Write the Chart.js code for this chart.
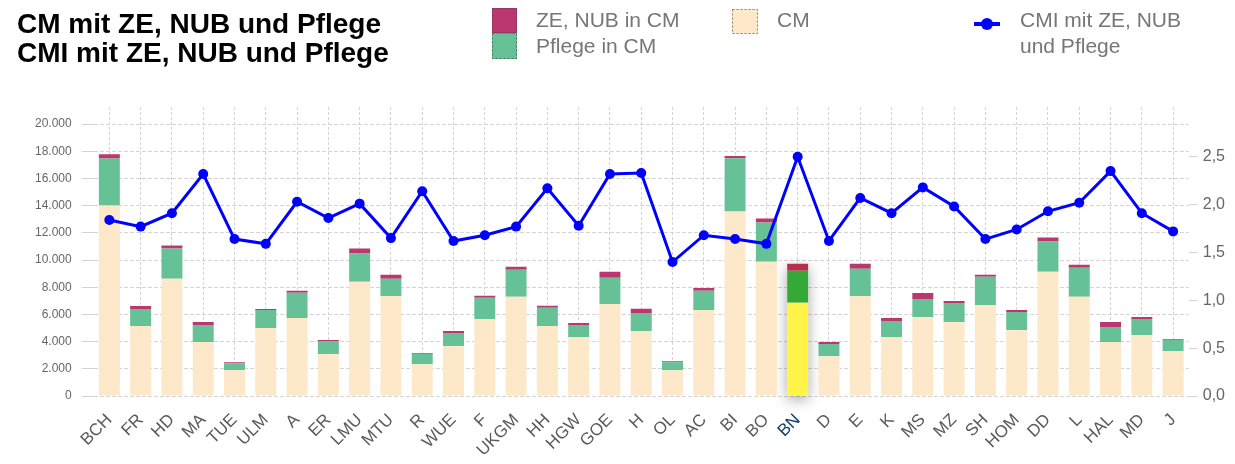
<!DOCTYPE html>
<html>
<head>
<meta charset="utf-8">
<script src="https://cdn.jsdelivr.net/npm/chart.js@4.4.1/dist/chart.umd.min.js"></script>
<style>
  html, body { margin: 0; padding: 0; background: #fff; }
</style>
</head>
<body>
<canvas id="myChart" width="1235" height="464"></canvas>
<script>
var categories = ['BCH', 'FR', 'HD', 'MA', 'TUE', 'ULM', 'A', 'ER', 'LMU', 'MTU', 'R', 'WUE',
    'F', 'UKGM', 'HH', 'HGW', 'GOE', 'H', 'OL', 'AC', 'BI', 'BO', 'BN', 'D', 'E', 'K', 'MS',
    'MZ', 'SH', 'HOM', 'DD', 'L', 'HAL', 'MD', 'J'];
var cmValues = [14000, 5150, 8620, 3970, 1900, 5000, 5740, 3080, 8400, 7360, 2340, 3670,
    5670, 7290, 5150, 4330, 6770, 4780, 1900, 6330, 13570, 9880, 6850, 2930, 7360, 4330, 5810,
    5440, 6700, 4850, 9140, 7290, 3970, 4480, 3300];
var pflegeValues = [3470, 1250, 2220, 1250, 510, 1330, 1850, 960, 2070, 1260, 740, 960,
    1550, 2000, 1330, 890, 1920, 1330, 590, 1400, 3920, 2880, 2360, 890, 2000, 1180, 1330,
    1400, 2070, 1330, 2220, 2140, 1110, 1180, 810];
var zeNubValues = [300, 220, 220, 220, 80, 70, 150, 70, 370, 300, 70, 150,
    150, 220, 150, 150, 440, 300, 70, 220, 150, 300, 520, 150, 370, 220, 440,
    150, 150, 150, 300, 220, 370, 150, 70];
var cmiValues = [1.84, 1.77, 1.91, 2.32, 1.64, 1.59, 2.03, 1.86, 2.01, 1.65, 2.14, 1.62,
    1.68, 1.77, 2.17, 1.78, 2.32, 2.33, 1.40, 1.68, 1.64, 1.59, 2.50, 1.62, 2.07, 1.91, 2.18,
    1.98, 1.64, 1.74, 1.93, 2.02, 2.35, 1.91, 1.72];

var cmTicks = [0, 2000, 4000, 6000, 8000, 10000, 12000, 14000, 16000, 18000, 20000];
var cmiTicks = [0, 0.5, 1.0, 1.5, 2.0, 2.5];

var titleLines = ['CM mit ZE, NUB und Pflege', 'CMI mit ZE, NUB und Pflege'];
var highlight = 'BN';

var cmColor = '#fde8c9', pflegeColor = '#66c296', zeColor = '#bb3770', lineColor = '#0000ff';
var gridColor = '#d4d4d4';
var font = '"Liberation Sans", Arial, sans-serif';

// the highlighted house gets its own colours
function perBar(normal, special) {
    return categories.map(function (c) { return c === highlight ? special : normal; });
}

function thousands(v) {
    return String(Math.round(v)).replace(/\B(?=(\d{3})+(?!\d))/g, '.');
}

function fixedTicks(values) {
    return function (scale) {
        scale.ticks = values.map(function (v) { return { value: v }; });
    };
}

// drop shadow behind the highlighted stack
var shadowPlugin = {
    id: 'barShadow',
    beforeDatasetsDraw: function (chart) {
        var i = categories.indexOf(highlight);
        var top = Infinity, bottom = -Infinity, x = 0, w = 0;
        chart.data.datasets.forEach(function (ds, d) {
            if (ds.type === 'line') return;
            var el = chart.getDatasetMeta(d).data[i];
            var p = el.getProps(['x', 'y', 'base', 'width'], true);
            top = Math.min(top, p.y, p.base);
            bottom = Math.max(bottom, p.y, p.base);
            x = p.x; w = p.width;
        });
        var ctx = chart.ctx;
        ctx.save();
        ctx.shadowColor = 'rgba(0,0,0,0.35)';
        ctx.shadowBlur = 14;
        ctx.shadowOffsetY = 4;
        ctx.fillStyle = '#fff';
        ctx.fillRect(x - w / 2, top, w, bottom - top);
        ctx.restore();
    }
};

// title and legend block above the plot
var headerPlugin = {
    id: 'header',
    afterDraw: function (chart) {
        var ctx = chart.ctx;
        var ds = chart.data.datasets;
        ctx.save();
        ctx.fillStyle = '#000';
        ctx.font = 'bold 28px ' + font;
        titleLines.forEach(function (t, i) { ctx.fillText(t, 17, 33 + i * 29); });

        function box(color, x, y, w, h) {
            ctx.fillStyle = color;
            ctx.fillRect(x, y, w, h);
            ctx.setLineDash([2, 2]);
            ctx.strokeStyle = 'rgba(60,60,60,0.6)';
            ctx.lineWidth = 1;
            ctx.strokeRect(x + 0.5, y + 0.5, w - 1, h - 1);
            ctx.setLineDash([]);
        }
        box(zeColor, 492, 8, 25, 25);
        box(pflegeColor, 492, 33, 25, 26);
        box(cmColor, 732, 9, 26, 25);

        ctx.strokeStyle = lineColor;
        ctx.lineWidth = 4;
        ctx.beginPath();
        ctx.moveTo(974, 24);
        ctx.lineTo(1000, 24);
        ctx.stroke();
        ctx.fillStyle = lineColor;
        ctx.beginPath();
        ctx.arc(987, 24, 6, 0, Math.PI * 2);
        ctx.fill();

        ctx.fillStyle = '#767676';
        ctx.font = '21px ' + font;
        ctx.fillText(ds[2].label, 536, 27);
        ctx.fillText(ds[1].label, 536, 53);
        ctx.fillText(ds[0].label, 777, 27);
        ctx.fillText('CMI mit ZE, NUB', 1020, 27);
        ctx.fillText('und Pflege', 1020, 53);
        ctx.restore();
    }
};

var ctx = document.getElementById('myChart').getContext('2d');
var myChart = new Chart(ctx, {
    type: 'bar',
    data: {
        labels: categories,
        datasets: [{
            label: 'CM',
            data: cmValues,
            backgroundColor: perBar(cmColor, '#fff447'),
            order: 1
        }, {
            label: 'Pflege in CM',
            data: pflegeValues,
            backgroundColor: perBar(pflegeColor, '#34a937'),
            order: 1
        }, {
            label: 'ZE, NUB in CM',
            data: zeNubValues,
            backgroundColor: perBar(zeColor, '#b92d4b'),
            order: 1
        }, {
            type: 'line',
            label: 'CMI mit ZE, NUB und Pflege',
            data: cmiValues,
            yAxisID: 'y1',
            borderColor: lineColor,
            backgroundColor: lineColor,
            borderWidth: 3,
            pointRadius: 5,
            pointBackgroundColor: lineColor,
            pointBorderWidth: 0,
            tension: 0,
            order: 0
        }]
    },
    options: {
        responsive: false,
        animation: false,
        layout: { padding: { left: 25, right: 5, top: 107, bottom: 0 } },
        datasets: {
            bar: { barPercentage: 0.67, categoryPercentage: 1 }
        },
        plugins: {
            legend: { display: false },
            title: { display: false },
            tooltip: { enabled: false }
        },
        scales: {
            x: {
                stacked: true,
                grid: { offset: false, color: gridColor, drawTicks: false },
                border: { display: false, dash: [3, 2] },
                // keep the plot bottom fixed, labels may use the space below
                afterFit: function (scale) { scale.height = 68; },
                ticks: {
                    autoSkip: false,
                    minRotation: 45,
                    maxRotation: 45,
                    padding: 14,
                    font: { family: font, size: 17 },
                    color: function (c) { return categories[c.index] === highlight ? '#0b3d6e' : '#5a5a5a'; }
                }
            },
            y: {
                stacked: true,
                min: 0,
                max: 21250,
                grid: { color: gridColor, tickLength: 12 },
                border: { display: false, dash: [4, 2] },
                afterBuildTicks: fixedTicks(cmTicks),
                ticks: {
                    padding: 10,
                    color: '#666',
                    font: { family: font, size: 12 },
                    callback: function (v) { return thousands(v); }
                }
            },
            y1: {
                position: 'right',
                min: 0,
                max: 3.02,
                grid: { drawOnChartArea: false, color: gridColor, tickLength: 9 },
                border: { display: false, dash: [4, 2] },
                afterBuildTicks: fixedTicks(cmiTicks),
                ticks: {
                    padding: 5,
                    color: '#666',
                    font: { family: font, size: 16 },
                    callback: function (v) { return v.toFixed(1).replace('.', ','); }
                }
            }
        }
    },
    plugins: [shadowPlugin, headerPlugin]
});
</script>
</body>
</html>
